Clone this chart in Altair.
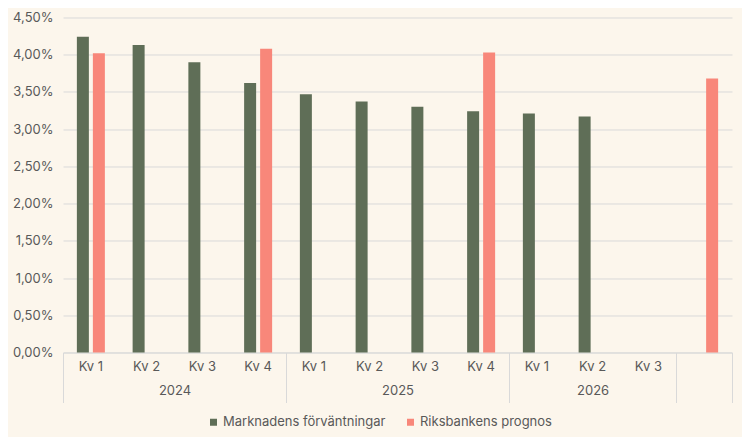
import altair as alt
import pandas as pd

# ---- data ----
quarters = ["Kv 1", "Kv 2", "Kv 3", "Kv 4",
            "Kv 1", "Kv 2", "Kv 3", "Kv 4",
            "Kv 1", "Kv 2", "Kv 3", ""]
year_names = ["2024", "2025", "2026", ""]
year_counts = [4, 4, 3, 1]
market = [4.24, 4.13, 3.90, 3.62, 3.47, 3.37, 3.30, 3.24, 3.21, 3.17, None, None]
riksbank = [4.02, None, None, 4.08, None, None, None, 4.03, None, None, None, 3.68]
series_names = ["Marknadens förväntningar", "Riksbankens prognos"]
series_colors = ["#5F6E57", "#F8877A"]
y_ticks = [0, 0.5, 1.0, 1.5, 2.0, 2.5, 3.0, 3.5, 4.0, 4.5]

# ---- tables ----
keys = [f"{i}|{q}" for i, q in enumerate(quarters)]
rows = []
for k, m, r in zip(keys, market, riksbank):
    rows.append({"key": k, "serie": series_names[0], "value": m})
    rows.append({"key": k, "serie": series_names[1], "value": r})
df = pd.DataFrame(rows)

boundaries = [0]
for c in year_counts:
    boundaries.append(boundaries[-1] + c)
mids = [(boundaries[i] + boundaries[i + 1]) / 2 for i in range(len(year_counts))]
ydf = pd.DataFrame({"year": year_names, "mid": mids})
bdf = pd.DataFrame({"b": boundaries})
year_expr = "".join(f"datum.value == {m} ? '{y}' : " for m, y in zip(mids, year_names)) + "''"

GRID = "#D9D9D9"
TEXT = "#595959"
FONT = "Inter"

bars = alt.Chart(df).mark_bar().encode(
    x=alt.X("key:N",
            scale=alt.Scale(domain=keys, paddingInner=0, paddingOuter=0),
            axis=alt.Axis(title=None, orient="bottom", labelExpr="split(datum.value,'|')[1]",
                          ticks=False, domainColor=GRID, labelPadding=8, labelAngle=0)),
    xOffset=alt.XOffset("serie:N",
                        scale=alt.Scale(domain=series_names, paddingInner=0.25, paddingOuter=0.867)),
    y=alt.Y("value:Q",
            scale=alt.Scale(domain=[0, 4.5], nice=False),
            axis=alt.Axis(title=None, values=y_ticks, domain=False, ticks=False,
                          gridColor=GRID, labelPadding=10,
                          labelExpr="replace(format(datum.value,'.2f'),'.',',') + '%'")),
    color=alt.Color("serie:N",
                    scale=alt.Scale(domain=series_names, range=series_colors),
                    legend=alt.Legend(title=None, orient="none", legendX=144, legendY=398,
                                      direction="horizontal",
                                      symbolType="square", symbolSize=49, symbolStrokeWidth=0,
                                      labelFontSize=13, labelColor=TEXT, labelFont=FONT,
                                      labelLimit=0, columnPadding=18, labelOffset=3)),
)

pos_scale = alt.Scale(domain=[0, boundaries[-1]], nice=False, zero=False)

dividers = alt.Chart(bdf).mark_point(opacity=0).encode(
    x=alt.X("b:Q", scale=pos_scale,
            axis=alt.Axis(title=None, orient="bottom", values=boundaries, labels=False,
                          tickSize=50, tickColor=GRID, domain=False, grid=False))
)

years = alt.Chart(ydf).mark_point(opacity=0).encode(
    x=alt.X("mid:Q", scale=pos_scale,
            axis=alt.Axis(title=None, orient="bottom", values=mids, labelExpr=year_expr,
                          ticks=False, domain=False, grid=False, labelPadding=32,
                          labelFlush=False, labelOverlap=False))
)

chart = alt.layer(bars, dividers, years).resolve_scale(x="independent").resolve_axis(
    x="independent"
).properties(
    width=669, height=335,
    autosize=alt.AutoSizeParams(type="none"),
    padding={"left": 55, "top": 9.5, "right": 10, "bottom": 84.5},
).configure(
    background="#FCF6EC", font=FONT
).configure_view(
    stroke=None
).configure_axis(
    labelFont=FONT, labelFontSize=13, labelColor=TEXT
)

chart.save("out.html", embed_options={"renderer": "svg", "actions": False})
